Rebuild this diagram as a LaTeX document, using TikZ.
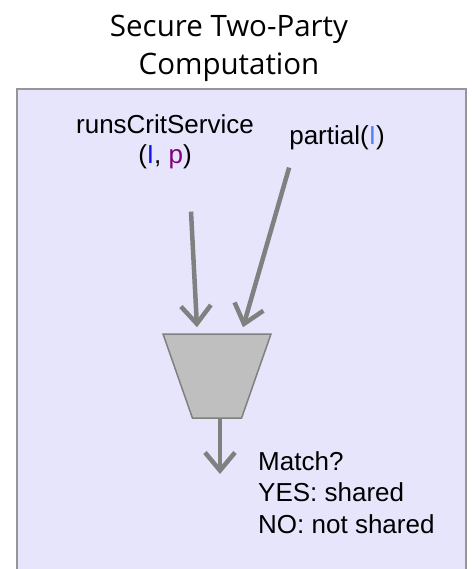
\documentclass[tikz,border=0pt]{standalone}
\usepackage{fontspec}
\setmainfont{Liberation Sans}
\newfontfamily\headfont{Open Sans}
\usetikzlibrary{arrows.meta,shapes.geometric,positioning}
\definecolor{panel}{RGB}{230,229,252}
\definecolor{panel edge}{RGB}{150,150,150}
\definecolor{flow gray}{RGB}{128,128,128}
\definecolor{box gray}{RGB}{191,191,191}
\definecolor{loc blue}{RGB}{20,20,235}
\definecolor{loc light}{RGB}{80,130,245}
\definecolor{priv purple}{RGB}{128,0,128}

\begin{document}
\begin{tikzpicture}
    [x=1pt, y=-1pt,
    label text/.style = {font=\fontsize{26}{30}\selectfont, inner sep=0pt, align=center},
    verdict text/.style = {font=\fontsize{26}{31.5}\selectfont, inner sep=0pt, align=left},
    flow/.style = {draw=flow gray, line width=4.5pt, -{Straight Barb[length=18pt,width=30pt]}},
    matcher box/.style = {shape=trapezium, shape border rotate=180, trapezium stretches=true,
      trapezium left angle=81.5, trapezium right angle=81.5, minimum width=108pt, minimum height=84pt,
      inner sep=2pt, draw=flow gray, fill=box gray, line width=1.5pt}]

    \useasboundingbox (0,0) rectangle (471,569);
    \draw [panel edge, fill=panel, line width=1.5pt] (17,89) rectangle (466,590);

    % anchor=base sits on the last line of a multi-line node
    \node [font=\headfont\fontsize{29.5}{38}\selectfont, align=center, inner sep=0pt, anchor=base]
      (title) at (229,75) {Secure Two-Party\\Computation};

    \node [label text, anchor=base] (runs) at (165,164)
      {runsCritService\\(\textcolor{loc blue}{I}, \textcolor{priv purple}{p})};
    \node [label text, anchor=base] (partial) at (337,145) {partial(\textcolor{loc light}{I})};

    \node [matcher box] (matcher) at (217,376) {\strut};
    \node [verdict text, anchor=base west] (verdict) at (258,533)
      {Match?\\YES: shared\\NO: not shared};
    \coordinate (out tip) at (220,474);

    \draw [flow] ([xshift=26pt,yshift=-42pt]runs.south) -- ([xshift=-20pt,yshift=6pt]matcher.north);
    \draw [flow] ([yshift=-17pt]partial.south west) -- ([xshift=26pt,yshift=6pt]matcher.north);
    \draw [flow] ([xshift=3pt]matcher.south) -- (out tip);
\end{tikzpicture}
\end{document}
